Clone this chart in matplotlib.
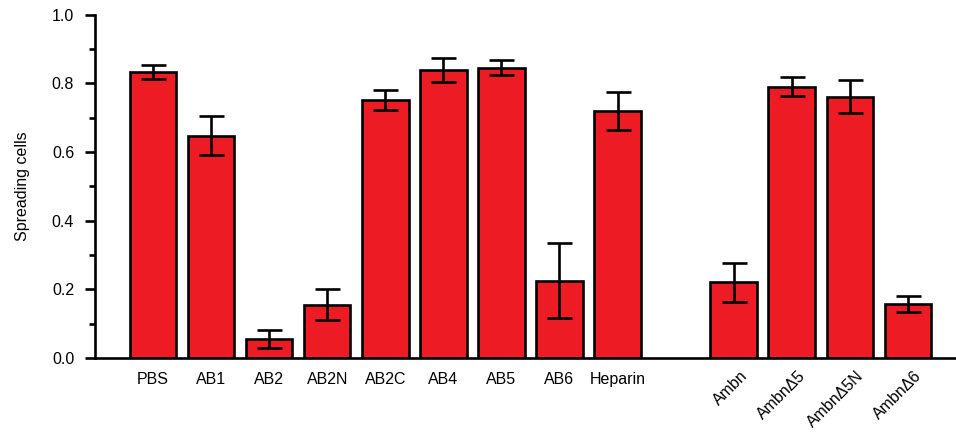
import matplotlib

matplotlib.use("Agg")

import matplotlib.pyplot as plt
from matplotlib.ticker import MultipleLocator

plt.rcParams["font.family"] = ["Liberation Sans", "DejaVu Sans"]

# 数据
labels_a = ["PBS", "AB1", "AB2", "AB2N", "AB2C", "AB4", "AB5", "AB6", "Heparin"]
values_a = [0.834, 0.648, 0.055, 0.155, 0.752, 0.840, 0.846, 0.225, 0.720]
err_a = [0.020, 0.057, 0.025, 0.045, 0.028, 0.035, 0.021, 0.110, 0.055]

labels_b = ["Ambn", "AmbnΔ5", "AmbnΔ5N", "AmbnΔ6"]
values_b = [0.220, 0.791, 0.762, 0.157]
err_b = [0.056, 0.027, 0.048, 0.023]

pos_a = list(range(len(labels_a)))
pos_b = [len(labels_a) + 1 + i for i in range(len(labels_b))]

RED = "#ED1C24"
FS = 11.5

fig = plt.figure(figsize=(9.56, 4.37), dpi=100)
ax = fig.add_axes([0.0994, 0.181, 0.9006, 0.785])

for pos, vals, errs in ((pos_a, values_a, err_a), (pos_b, values_b, err_b)):
    ax.bar(pos, vals, width=0.8, color=RED, edgecolor="black", linewidth=1.9, zorder=2)
    ax.errorbar(pos, vals, yerr=errs, fmt="none", ecolor="black",
                elinewidth=1.9, capsize=9, capthick=1.9, zorder=3)

ax.set_xlim(-1, 13.83)
ax.set_ylim(0, 1.0)
ax.yaxis.set_major_locator(MultipleLocator(0.2))
ax.yaxis.set_minor_locator(MultipleLocator(0.1))
ax.yaxis.set_major_formatter(plt.FuncFormatter(lambda v, _: f"{v:.1f}"))
ax.tick_params(axis="y", which="major", length=7, width=1.9, labelsize=FS, pad=8)
ax.tick_params(axis="y", which="minor", length=4, width=1.9)
ax.set_ylabel("Spreading cells", fontsize=FS, labelpad=16)

for side in ("top", "right"):
    ax.spines[side].set_visible(False)
for side in ("left", "bottom"):
    ax.spines[side].set_linewidth(1.9)

ax.set_xticks([])
# 第一组：水平标签
for p, lab in zip(pos_a, labels_a):
    ax.text(p, -0.042, lab, transform=ax.get_xaxis_transform(),
            ha="center", va="top", fontsize=FS)
# 第二组：45 度斜标签
for p, lab in zip(pos_b, labels_b):
    ax.text(p + 0.1, -0.03, lab, transform=ax.get_xaxis_transform(),
            ha="right", va="top", rotation=45, rotation_mode="anchor", fontsize=FS)

fig.savefig("out.png", dpi=100)
